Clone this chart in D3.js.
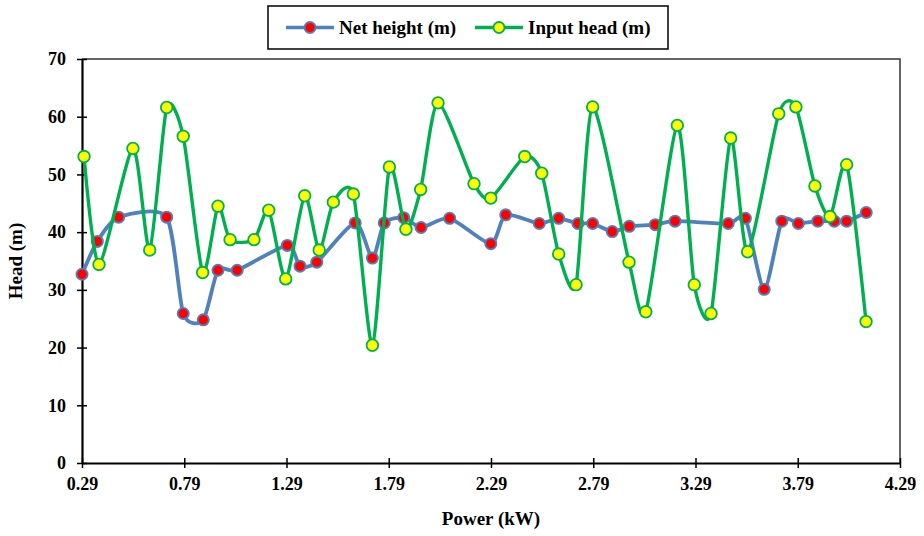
<!DOCTYPE html>
<html>
<head>
<meta charset="utf-8">
<script src="https://cdn.jsdelivr.net/npm/d3@7"></script>
<style>
  html, body { margin: 0; padding: 0; background: #fff; }
  svg { display: block; }
  text { font-family: "Liberation Serif", "Times New Roman", serif; font-weight: bold; fill: #000; }
</style>
</head>
<body>
<svg id="chart" width="924" height="536"></svg>
<script>
// Net height series: power (kW) and head (m)
const netPower = [0.290, 0.365, 0.469, 0.704, 0.785, 0.883, 0.955, 1.049, 1.294, 1.356,
  1.438, 1.626, 1.710, 1.768, 1.863, 1.948, 2.088, 2.289, 2.362, 2.526,
  2.621, 2.715, 2.787, 2.883, 2.966, 3.093, 3.190, 3.450, 3.534, 3.626,
  3.712, 3.793, 3.888, 3.969, 4.029, 4.125];
const netHead = [32.7, 38.4, 42.6, 42.6, 25.9, 24.8, 33.4, 33.4, 37.7, 34.1,
  34.8, 41.6, 35.5, 41.6, 42.5, 40.8, 42.4, 38.0, 43.0, 41.5,
  42.4, 41.5, 41.5, 40.1, 41.0, 41.3, 41.9, 41.5, 42.4, 30.1,
  41.9, 41.5, 41.9, 41.9, 41.9, 43.4];

// Input head series: power (kW) and head (m)
const inputPower = [0.300, 0.373, 0.539, 0.621, 0.704, 0.785, 0.880, 0.955, 1.014, 1.131,
  1.203, 1.286, 1.379, 1.450, 1.519, 1.617, 1.710, 1.793, 1.874, 1.946,
  2.031, 2.207, 2.289, 2.455, 2.538, 2.621, 2.706, 2.787, 2.965, 3.047,
  3.201, 3.284, 3.366, 3.462, 3.545, 3.697, 3.781, 3.874, 3.948, 4.029, 4.124];
const inputHead = [53.1, 34.4, 54.5, 36.9, 61.6, 56.6, 33.0, 44.5, 38.7, 38.7,
  43.8, 31.9, 46.3, 36.9, 45.2, 46.6, 20.4, 51.3, 40.5, 47.4,
  62.4, 48.4, 45.9, 53.1, 50.2, 36.2, 30.9, 61.7, 34.8, 26.2,
  58.5, 30.9, 25.9, 56.3, 36.6, 60.5, 61.7, 48.0, 42.7, 51.7, 24.5];

// Axis ticks
const xTicks = [0.29, 0.79, 1.29, 1.79, 2.29, 2.79, 3.29, 3.79, 4.29];
const yTicks = [0, 10, 20, 30, 40, 50, 60, 70];

const seriesNames = ["Net height (m)", "Input head (m)"];
const xTitle = "Power (kW)";
const yTitle = "Head (m)";

const BLUE = "#4F81BD", GREEN = "#00B050";

const svg = d3.select("#chart");
const plot = { left: 82, right: 900, top: 59, bottom: 463 };

const x = d3.scaleLinear().domain([0.29, 4.29]).range([plot.left, plot.right]);
const y = d3.scaleLinear().domain([0, 70]).range([plot.bottom, plot.top]);

// Plot frame (top and right edges)
svg.append("path")
  .attr("d", `M${plot.left},${plot.top}H${plot.right}V${plot.bottom}`)
  .attr("fill", "none").attr("stroke", "#333").attr("stroke-width", 1.5);

// Axes with ticks crossing the axis line
const xAxis = svg.append("g").attr("transform", `translate(0,${plot.bottom})`)
  .call(d3.axisBottom(x).tickValues(xTicks).tickFormat(d3.format(".2f"))
    .tickSizeInner(5).tickSizeOuter(0).tickPadding(12));
const yAxis = svg.append("g").attr("transform", `translate(${plot.left},0)`)
  .call(d3.axisLeft(y).tickValues(yTicks).tickSizeInner(5).tickSizeOuter(0).tickPadding(12));

[xAxis, yAxis].forEach(g => {
  g.select(".domain").attr("stroke", "#000").attr("stroke-width", 2.2);
  g.selectAll(".tick line").attr("stroke", "#000").attr("stroke-width", 1.5);
  g.selectAll(".tick text").style("font-family", '"Liberation Serif", serif')
    .style("font-weight", "bold").style("font-size", "18px").attr("fill", "#000");
});
xAxis.selectAll(".tick line").attr("y1", -5).attr("y2", 5);
yAxis.selectAll(".tick line").attr("x1", -5).attr("x2", 5);
xAxis.selectAll(".tick text").attr("y", 14);
yAxis.selectAll(".tick text").attr("x", -16);

// Axis titles
svg.append("text").attr("x", (plot.left + plot.right) / 2).attr("y", 525)
  .attr("text-anchor", "middle").style("font-size", "19px").text(xTitle);
svg.append("text").attr("transform", `translate(22,${(plot.top + plot.bottom) / 2}) rotate(-90)`)
  .attr("text-anchor", "middle").style("font-size", "19px").text(yTitle);

// Smoothed connecting lines
const line = d3.line().x(d => x(d[0])).y(d => y(d[1])).curve(d3.curveCardinal.tension(0.3));

function drawSeries(px, py, stroke, fill, width, r) {
  const pts = px.map((v, i) => [v, py[i]]);
  const g = svg.append("g");
  g.append("path").datum(pts).attr("d", line)
    .attr("fill", "none").attr("stroke", stroke).attr("stroke-width", width)
    .attr("stroke-linejoin", "round");
  g.selectAll("circle").data(pts).join("circle")
    .attr("cx", d => x(d[0])).attr("cy", d => y(d[1])).attr("r", r)
    .attr("fill", fill).attr("stroke", stroke).attr("stroke-width", 1.8);
}

drawSeries(netPower, netHead, BLUE, "#FF0000", 3.8, 5.6);
drawSeries(inputPower, inputHead, GREEN, "#FFFF00", 3.4, 5.8);

// Legend
const lg = svg.append("g");
lg.append("rect").attr("x", 268).attr("y", 6).attr("width", 400).attr("height", 43)
  .attr("fill", "#fff").attr("stroke", "#000").attr("stroke-width", 1.5);
const items = [
  { name: seriesNames[0], stroke: BLUE, fill: "#FF0000", x0: 286 },
  { name: seriesNames[1], stroke: GREEN, fill: "#FFFF00", x0: 475 }
];
items.forEach(it => {
  lg.append("line").attr("x1", it.x0).attr("x2", it.x0 + 48).attr("y1", 27.5).attr("y2", 27.5)
    .attr("stroke", it.stroke).attr("stroke-width", 3.6);
  lg.append("circle").attr("cx", it.x0 + 24).attr("cy", 27.5).attr("r", 5.5)
    .attr("fill", it.fill).attr("stroke", it.stroke).attr("stroke-width", 1.8);
  lg.append("text").attr("x", it.x0 + 53).attr("y", 34).style("font-size", "19px").text(it.name);
});
</script>
</body>
</html>
